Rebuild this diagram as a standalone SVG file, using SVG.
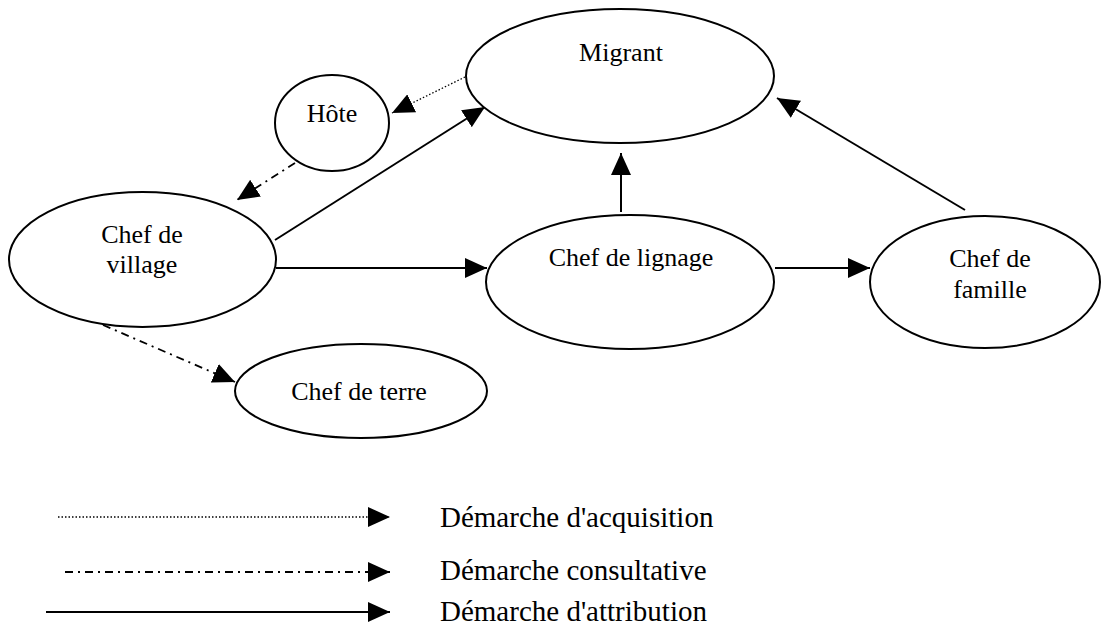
<svg xmlns="http://www.w3.org/2000/svg" width="1111" height="636" viewBox="0 0 1111 636">
<style>
.node ellipse{fill:#fff;stroke:#000;stroke-width:2}
.node text,.legend text{font-family:"Liberation Serif","Times New Roman",serif;fill:#000;text-anchor:middle}
.node text{font-size:26px}
.legend text{font-size:29px;text-anchor:start}
.solid{stroke:#000;stroke-width:2;fill:none}
.dot{stroke:#000;stroke-width:1.3;stroke-dasharray:1.5 2;fill:none}
.dashdot{stroke:#000;stroke-width:1.8;stroke-dasharray:8 5 2 5;fill:none}
</style>
<defs>
<marker id="arr" markerUnits="userSpaceOnUse" markerWidth="23" markerHeight="20" refX="22" refY="10" orient="auto">
<path d="M0,0 L22,10 L0,20 z" fill="#000"/>
</marker>
</defs>
<rect width="1111" height="636" fill="#fff"/>
<g id="connectors">
<line class="dot" x1="465" y1="77" x2="392" y2="113" marker-end="url(#arr)"/>
<line class="dashdot" x1="295" y1="163" x2="237" y2="200" marker-end="url(#arr)"/>
<line class="solid" x1="275" y1="240" x2="485" y2="107" marker-end="url(#arr)"/>
<line class="solid" x1="276" y1="268" x2="487" y2="268" marker-end="url(#arr)"/>
<line class="solid" x1="621" y1="212" x2="621" y2="153" marker-end="url(#arr)"/>
<line class="solid" x1="775" y1="268" x2="870" y2="268" marker-end="url(#arr)"/>
<line class="solid" x1="965" y1="210" x2="777" y2="98" marker-end="url(#arr)"/>
<line class="dashdot" x1="103" y1="325" x2="235" y2="382" marker-end="url(#arr)"/>
</g>
<g id="migrant" class="node">
<ellipse cx="620" cy="76" rx="154" ry="67"/>
<text x="621" y="61">Migrant</text>
</g>
<g id="hote" class="node">
<ellipse cx="332" cy="123" rx="57" ry="48"/>
<text x="332" y="122">Hôte</text>
</g>
<g id="chef-village" class="node">
<ellipse cx="142.5" cy="259.5" rx="133.5" ry="67.5"/>
<text x="142" y="243">Chef de</text>
<text x="142" y="273">village</text>
</g>
<g id="chef-lignage" class="node">
<ellipse cx="630" cy="282" rx="144" ry="67"/>
<text x="631" y="266">Chef de lignage</text>
</g>
<g id="chef-famille" class="node">
<ellipse cx="985" cy="282" rx="115" ry="66"/>
<text x="990" y="267">Chef de</text>
<text x="990" y="298">famille</text>
</g>
<g id="chef-terre" class="node">
<ellipse cx="361" cy="391" rx="126" ry="47"/>
<text x="359" y="400">Chef de terre</text>
</g>
<g id="legend" class="legend">
<line class="dot" x1="58" y1="517" x2="390" y2="517" marker-end="url(#arr)"/>
<text x="440" y="527">Démarche d'acquisition</text>
<line class="dashdot" x1="65" y1="572" x2="390" y2="572" marker-end="url(#arr)"/>
<text x="440" y="580">Démarche consultative</text>
<line class="solid" x1="46" y1="612" x2="390" y2="612" marker-end="url(#arr)"/>
<text x="440" y="621">Démarche d'attribution</text>
</g>
</svg>
